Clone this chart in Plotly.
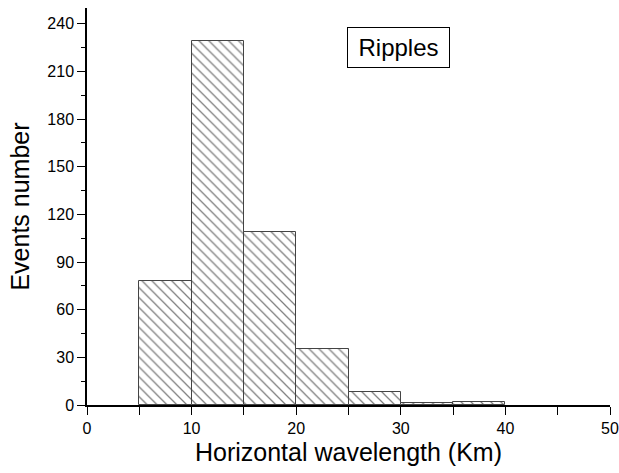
import plotly.graph_objects as go

bin_left = [5, 10, 15, 20, 25, 30, 35]
bin_width = 5
counts = [78, 229, 109, 35, 8, 1, 2]
x_ticks = [0, 10, 20, 30, 40, 50]
y_ticks = [0, 30, 60, 90, 120, 150, 180, 210, 240]

centers = [b + bin_width / 2 for b in bin_left]

fig = go.Figure()
fig.add_trace(go.Bar(
    x=centers, y=counts, width=[bin_width] * len(counts),
    marker=dict(color="white",
                line=dict(color="#444444", width=1),
                pattern=dict(shape="\\", fgcolor="#000000", bgcolor="white",
                             size=7, solidity=0.18)),
    showlegend=False,
))

FONT = "Liberation Sans, Arial, sans-serif"
axis_font = dict(family=FONT, size=16, color="black")
fig.update_layout(
    width=619, height=473,
    margin=dict(l=87, r=9, t=8, b=68),
    plot_bgcolor="white", paper_bgcolor="white",
    font=dict(family=FONT, color="black"),
    xaxis=dict(range=[0, 50], tickvals=x_ticks, ticks="outside", ticklen=8, tickwidth=1,
               tickcolor="black", showline=True, linecolor="black", linewidth=1.5,
               showgrid=False, zeroline=False, tickfont=axis_font, automargin=False,
               minor=dict(dtick=5, tick0=0, ticks="outside", ticklen=8, tickcolor="black", showgrid=False),
               title=dict(text="Horizontal wavelength (Km)", font=dict(size=25, color="black"), standoff=8)),
    yaxis=dict(range=[0, 250], tickvals=y_ticks, ticks="outside", ticklen=8, tickwidth=1,
               tickcolor="black", showline=True, linecolor="black", linewidth=1.5,
               showgrid=False, zeroline=False, tickfont=axis_font, automargin=False,
               minor=dict(dtick=15, tick0=0, ticks="outside", ticklen=4, tickcolor="black", showgrid=False),
               title=dict(text="Events number", font=dict(size=25, color="black"), standoff=11)),
    bargap=0,
)
fig.add_annotation(x=29.76, y=225, xref="x", yref="y", text="Ripples", showarrow=False,
                   font=dict(size=24, color="black", family=FONT), bordercolor="black", borderwidth=1,
                   borderpad=4, bgcolor="white", width=93, height=31)

# remove the page's default 8px body margin so the figure fills the window exactly
fig.write_html("out.html", config={"displayModeBar": False},
               post_script="document.body.style.margin='0';document.body.style.overflow='hidden';")
